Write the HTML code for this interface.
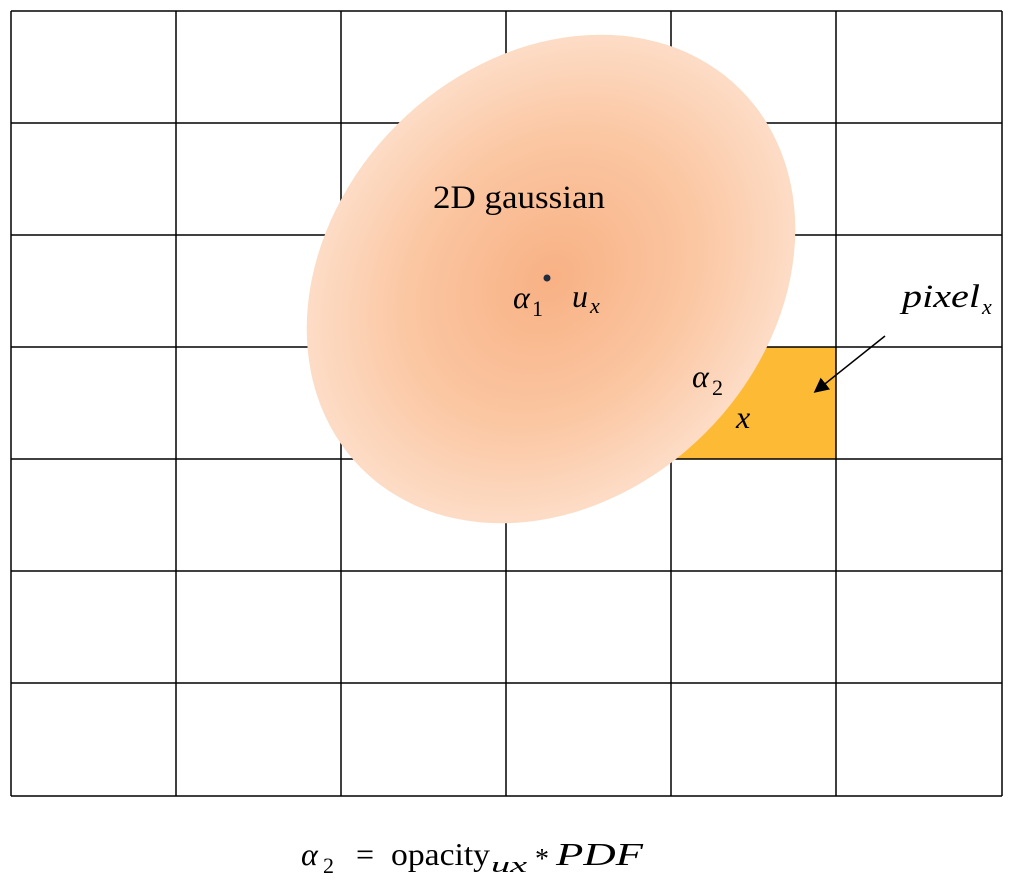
<!DOCTYPE html>
<html><head><meta charset="utf-8"><style>
body{margin:0;background:#fff;width:1009px;height:896px;overflow:hidden}
svg{display:block}
.t{font-family:"Liberation Serif",serif;fill:#000}
.m{font-family:"Liberation Serif",serif;font-style:italic;fill:#000}
</style></head><body>
<svg width="1009" height="896">
<defs>
<radialGradient id="g" cx="0.5" cy="0.5" r="0.5">
<stop offset="0" stop-color="#F8B184"/>
<stop offset="0.6" stop-color="#FBC7A3"/>
<stop offset="1" stop-color="#FDDCC6"/>
</radialGradient>
<marker id="ah" markerWidth="10" markerHeight="10" refX="8" refY="5" orient="auto"><path d="M0,0 L10,5 L0,10 z" fill="#000"/></marker>
</defs>
<rect x="671" y="347" width="165" height="112" fill="#FDBA35"/>
<g id="grid" stroke="#000" stroke-width="1.5"></g>
<ellipse cx="551" cy="279" rx="268" ry="218" transform="rotate(-45 551 279)" fill="url(#g)"/>
<circle cx="547" cy="278" r="3.5" fill="#1f2d3d"/>
<text class="t" x="433" y="208" font-size="33" textLength="172" lengthAdjust="spacingAndGlyphs">2D gaussian</text>
<g>
<text class="m" x="513" y="308" font-size="32">α</text><text class="t" x="532" y="316" font-size="22">1</text></g>
<g>
<text class="m" x="572" y="307" font-size="32">u</text><text class="m" x="590" y="313" font-size="22">x</text></g>
<g>
<text class="m" x="902" y="307" font-size="33" textLength="78" lengthAdjust="spacingAndGlyphs">pixel</text><text class="m" x="982" y="314" font-size="22">x</text></g>
<line x1="885" y1="336" x2="816" y2="391" stroke="#000" stroke-width="1.5" marker-end="url(#ah)"/>
<g>
<text class="m" x="692" y="387" font-size="32">α</text><text class="t" x="712" y="395" font-size="22">2</text></g>
<text class="m" x="736" y="428" font-size="32">x</text>
<g>
<text class="m" x="301" y="865" font-size="32">α</text>
<text class="t" x="323" y="873" font-size="22">2</text>
<text class="t" x="356" y="865" font-size="32">=</text>
<text class="t" x="391" y="865" font-size="32" textLength="99" lengthAdjust="spacingAndGlyphs">opacity</text>
<text class="m" x="491" y="872" font-size="22" textLength="36" lengthAdjust="spacingAndGlyphs">ux</text>
<text class="t" x="535" y="868" font-size="28">*</text>
<text class="m" x="556" y="865" font-size="32" textLength="87" lengthAdjust="spacingAndGlyphs">PDF</text>
</g>
</svg>
<script>
const colsX=[11,176,341,506,671,836,1002];
const rowsY=[11,123,235,347,459,571,683,796];
const g=document.getElementById('grid');
const ns='http://www.w3.org/2000/svg';
colsX.forEach(x=>{const l=document.createElementNS(ns,'line');l.setAttribute('x1',x);l.setAttribute('x2',x);l.setAttribute('y1',11);l.setAttribute('y2',796);


g.appendChild(l);});
rowsY.forEach(y=>{const l=document.createElementNS(ns,'line');l.setAttribute('y1',y);l.setAttribute('y2',y);l.setAttribute('x1',11);l.setAttribute('x2',1002);


g.appendChild(l);});
</script>
</body></html>
